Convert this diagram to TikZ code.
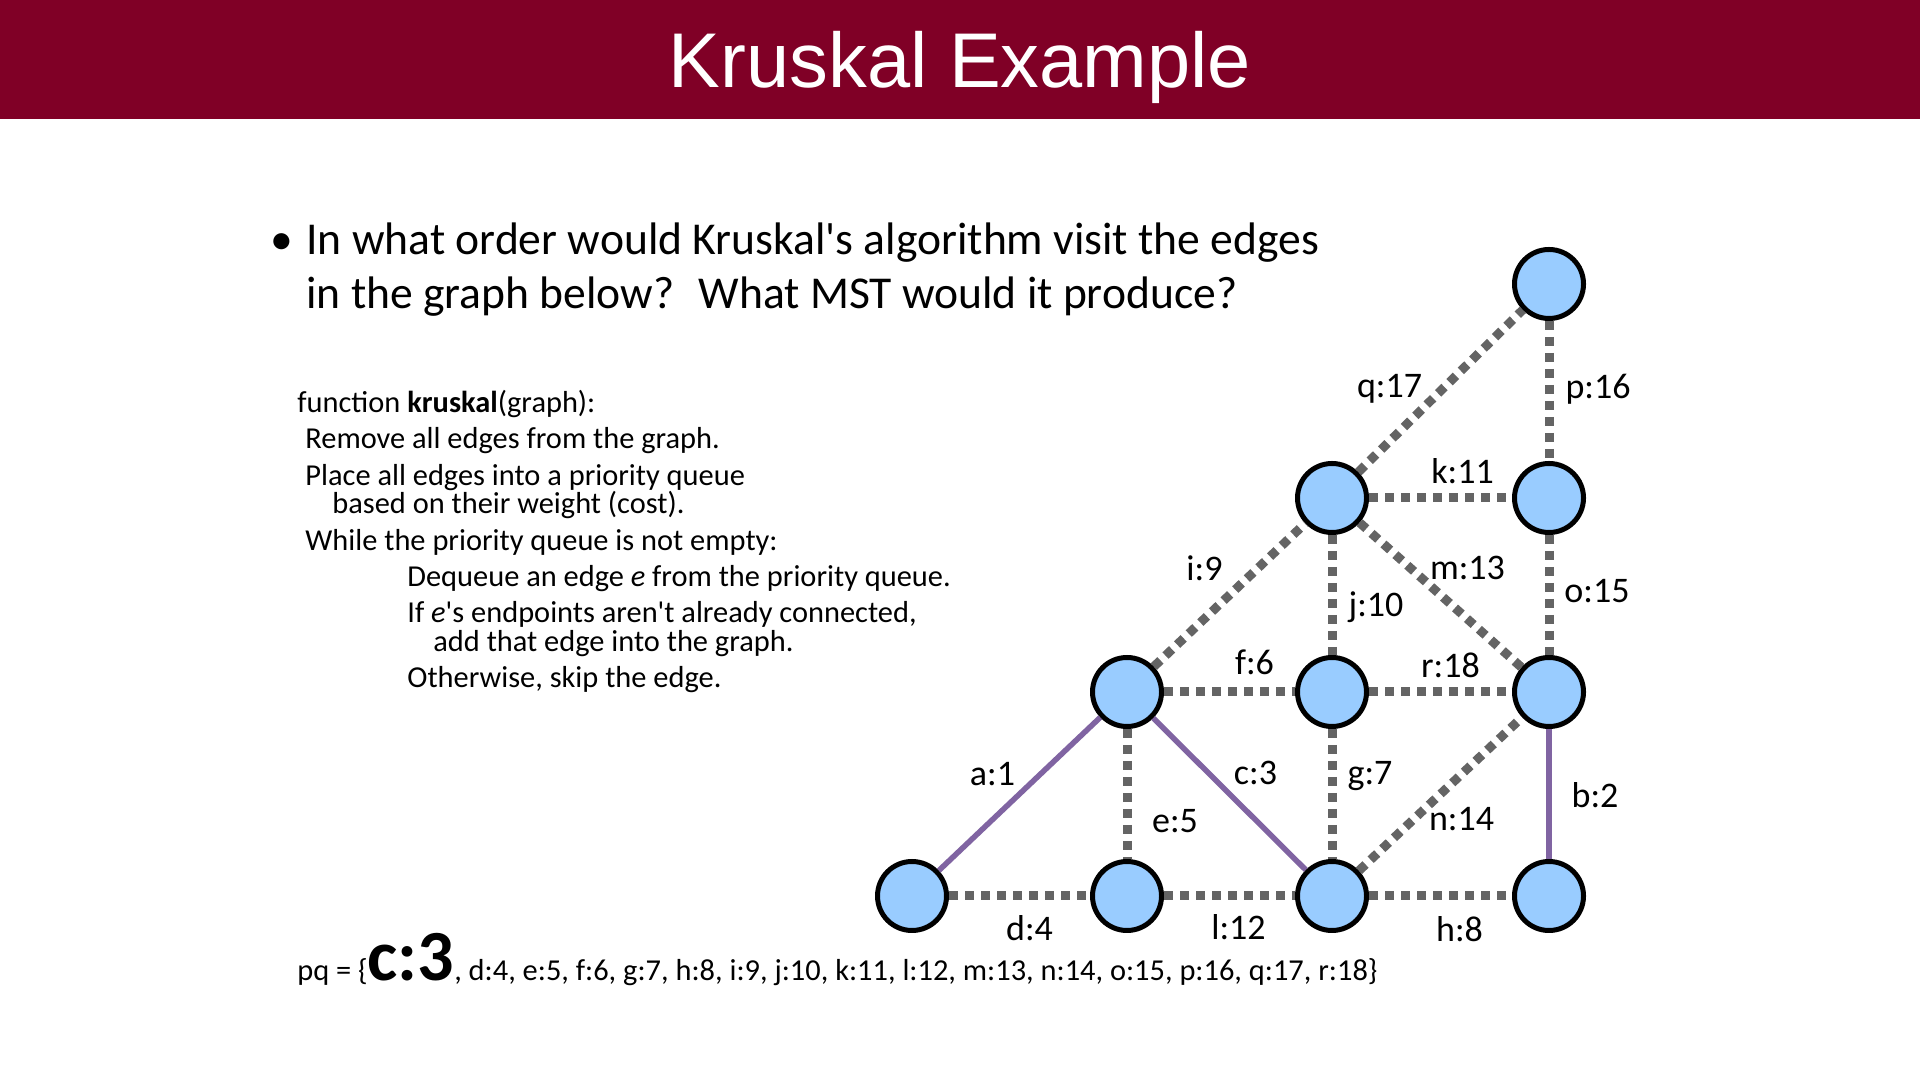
\documentclass[tikz,border=0pt]{standalone}
\usepackage{fontspec}
\setmainfont{Carlito}
\newfontfamily\titlefont{Liberation Sans}
\usetikzlibrary{positioning}
\definecolor{slidered}{RGB}{128,0,38}
\definecolor{nodeblue}{RGB}{153,204,255}
\definecolor{edgegray}{RGB}{100,100,100}
\definecolor{mstpurple}{RGB}{128,100,162}

\begin{document}
\begin{tikzpicture}[x=0.5pt, y=0.5pt,
          vert/.style={circle, draw=black, line width=2.5pt, fill=nodeblue,
                       minimum size=34.5pt, inner sep=0pt},
          dsh/.style={draw=edgegray, line width=4.5pt, dash pattern=on 4.5pt off 3.5pt},
          mst/.style={draw=mstpurple, line width=2.75pt},
          lbl/.style={font=\fontsize{18}{21}\selectfont, inner sep=0pt},
          code/.style={font=\fontsize{15.2}{18}\selectfont, anchor=base west, inner sep=0pt},
          bul/.style={font=\fontsize{22.8}{27.5}\selectfont, anchor=base west, inner sep=0pt}]
        \useasboundingbox (0,0) rectangle (1920,1080);
        \fill[white] (0,0) rectangle (1920,1080);
        \fill[slidered] (0,961) rectangle (1920,1080);
        \node[anchor=base, inner sep=0pt, text=white,
              font=\titlefont\fontsize{38.8}{44}\selectfont] (title) at (960,992) {Kruskal Example};

        % question
        \node[bul, anchor=base] (dot) at (282,825) {•};
        \node[bul] (q1) at (306,825) {In what order would Kruskal\textquotesingle s algorithm visit the edges};
        \node[bul] (q2) at (306,771) {in the graph below?~ What MST would it produce?};

        % pseudocode
        \node[code] (c1) at (297,667) {function \textbf{kruskal}(graph):};
        \node[code] (c2) at (305,631) {Remove all edges from the graph.};
        \node[code] (c3) at (305,594) {Place all edges into a priority queue};
        \node[code] (c4) at (332,566) {based on their weight (cost).};
        \node[code] (c5) at (305,529) {While the priority queue is not empty:};
        \node[code] (c6) at (407,493) {Dequeue an edge \emph{e} from the priority queue.};
        \node[code] (c7) at (407,457) {If \emph{e}\textquotesingle s endpoints aren\textquotesingle t already connected,};
        \node[code] (c8) at (433,428) {add that edge into the graph.};
        \node[code] (c9) at (407,392) {Otherwise, skip the edge.};

        % vertices
        \node[vert] (tp) at (1549,796) {};
        \node[vert] (ul) at (1332,582) {};
        \node[vert] (ur) at (1549,582) {};
        \node[vert] (ml) at (1127,388) {};
        \node[vert] (mc) at (1332,388) {};
        \node[vert] (mr) at (1549,388) {};
        \node[vert] (bl) at (912,184) {};
        \node[vert] (b2) at (1127,184) {};
        \node[vert] (b3) at (1332,184) {};
        \node[vert] (br) at (1549,184) {};

        % edges
        \draw[mst] (bl) -- (ml) node[lbl, midway, shift={(-27,20)}] {a:1};
        \draw[mst] (mr) -- (br) node[lbl, midway, shift={(46,-1)}] {b:2};
        \draw[mst] (ml) -- (b3) node[lbl, midway, shift={(26,21)}] {c:3};
        \draw[dsh] (bl) -- (b2) node[lbl, midway, shift={(10,-32)}] {d:4};
        \draw[dsh] (ml) -- (b2) node[lbl, midway, shift={(48,-27)}] {e:5};
        \draw[dsh] (ml) -- (mc) node[lbl, midway, shift={(25,30)}] {f:6};
        \draw[dsh] (mc) -- (b3) node[lbl, midway, shift={(38,18)}] {g:7};
        \draw[dsh] (b3) -- (br) node[lbl, midway, shift={(19,-33)}] {h:8};
        \draw[dsh] (ml) -- (ul) node[lbl, midway, shift={(-25,27)}] {i:9};
        \draw[dsh] (ul) -- (mc) node[lbl, midway, shift={(44,-12)}] {j:10};
        \draw[dsh] (ul) -- (ur) node[lbl, midway, shift={(22,27)}] {k:11};
        \draw[dsh] (b2) -- (b3) node[lbl, midway, shift={(9,-31)}] {l:12};
        \draw[dsh] (ul) -- (mr) node[lbl, midway, shift={(27,27)}] {m:13};
        \draw[dsh] (b3) -- (mr) node[lbl, midway, shift={(21,-25)}] {n:14};
        \draw[dsh] (ur) -- (mr) node[lbl, midway, shift={(48,4)}] {o:15};
        \draw[dsh] (tp) -- (ur) node[lbl, midway, shift={(49,2)}] {p:16};
        \draw[dsh] (ul) -- (tp) node[lbl, midway, shift={(-51,2)}] {q:17};
        \draw[dsh] (mc) -- (mr) node[lbl, midway, shift={(10,27)}] {r:18};

        % priority queue
        \node[code] (pq) at (297,99) {pq = \{{\fontsize{36}{40}\selectfont\bfseries c:3}, d:4, e:5, f:6, g:7, h:8, i:9, j:10, k:11, l:12, m:13, n:14, o:15, p:16, q:17, r:18\}};
\end{tikzpicture}
\end{document}
